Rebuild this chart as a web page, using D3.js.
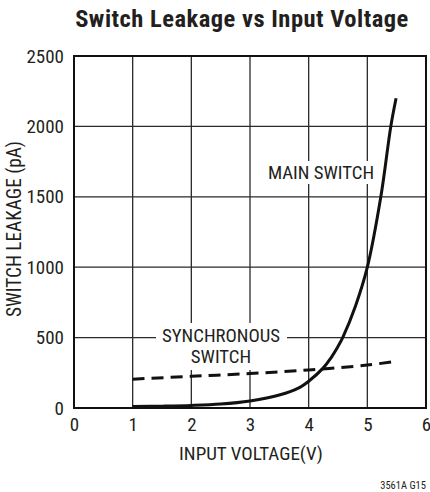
<!DOCTYPE html>
<html><head><meta charset="utf-8">
<script src="https://cdn.jsdelivr.net/npm/d3@7"></script>
<style>
html,body{margin:0;padding:0;background:#fff;}
svg{display:block;}
text{font-family:"Liberation Sans Narrow","Roboto Condensed","Liberation Sans",Arial,sans-serif;fill:#231f20;}
</style></head>
<body>
<svg id="chart" width="430" height="492"></svg>
<script>
const title = "Switch Leakage vs Input Voltage";
const xLabel = "INPUT VOLTAGE(V)";
const yLabel = "SWITCH LEAKAGE (pA)";
const footnote = "3561A G15";
const xTicks = [0, 1, 2, 3, 4, 5, 6];
const yTicks = [0, 500, 1000, 1500, 2000, 2500];
const mainX = [1, 1.5, 2, 2.5, 3, 3.5, 3.85, 4, 4.25, 4.375, 4.5, 4.58, 4.8, 5, 5.23, 5.4, 5.49];
const mainY = [10, 13, 18, 28, 50, 92, 147, 190, 285, 353, 437, 500, 727, 1000, 1500, 2000, 2200];
const syncX = [1, 2, 3, 4, 5, 5.5];
const syncY = [205, 225, 245, 270, 305, 332];

const svg = d3.select("#chart");
const m = {left: 74, right: 426, top: 56, bottom: 408};
const x = d3.scaleLinear().domain([0, 6]).range([m.left, m.right]);
const y = d3.scaleLinear().domain([0, 2500]).range([m.bottom, m.top]);

// grid
const g = svg.append("g");
g.selectAll(".vg").data(xTicks.slice(1, -1)).join("line")
  .attr("x1", d => x(d)).attr("x2", d => x(d)).attr("y1", y(0)).attr("y2", y(2500))
  .attr("stroke", "#2a2a2a").attr("stroke-width", 1.3);
g.selectAll(".hg").data(yTicks.slice(1, -1)).join("line")
  .attr("y1", d => y(d)).attr("y2", d => y(d)).attr("x1", x(0)).attr("x2", x(6))
  .attr("stroke", "#2a2a2a").attr("stroke-width", 1.3);

// label backgrounds
svg.append("rect").attr("x", 156).attr("y", 323).attr("width", 131).attr("height", 47).attr("fill", "#fff");
svg.append("rect").attr("x", 264).attr("y", 161).attr("width", 110).attr("height", 23).attr("fill", "#fff");

// frame
svg.append("rect").attr("x", x(0)).attr("y", y(2500)).attr("width", x(6) - x(0)).attr("height", y(0) - y(2500))
  .attr("fill", "none").attr("stroke", "#111").attr("stroke-width", 2);

// axes
const xAxis = d3.axisBottom(x).tickValues(xTicks).tickSize(0).tickPadding(10).tickFormat(d3.format("d"));
const xa = svg.append("g").attr("transform", `translate(0,${y(0)})`).call(xAxis);
xa.select(".domain").remove();
xa.selectAll("text").attr("font-size", 19).attr("fill", "#231f20").attr("font-family", null);

const yAxis = d3.axisLeft(y).tickValues(yTicks).tickSize(0).tickPadding(10).tickFormat(d3.format("d"));
const ya = svg.append("g").attr("transform", `translate(${x(0)},0)`).call(yAxis);
ya.select(".domain").remove();
ya.selectAll("text").attr("font-size", 19).attr("fill", "#231f20").attr("font-family", null);

// lines
const mainData = mainX.map((d, i) => [d, mainY[i]]);
const syncData = syncX.map((d, i) => [d, syncY[i]]);
const line = d3.line().x(d => x(d[0])).y(d => y(d[1])).curve(d3.curveCatmullRom.alpha(0.5));
svg.append("path").attr("d", line(syncData)).attr("fill", "none").attr("stroke", "#111")
  .attr("stroke-width", 3).attr("stroke-dasharray", "12,7");
svg.append("path").attr("d", line(mainData)).attr("fill", "none").attr("stroke", "#111")
  .attr("stroke-width", 3);

// annotations
svg.append("text").attr("x", 321).attr("y", 179).attr("text-anchor", "middle").attr("font-size", 18.8).text("MAIN SWITCH");
svg.append("text").attr("x", 221).attr("y", 342).attr("text-anchor", "middle").attr("font-size", 18.8).text("SYNCHRONOUS");
svg.append("text").attr("x", 221).attr("y", 363).attr("text-anchor", "middle").attr("font-size", 18.8).text("SWITCH");

// titles
svg.append("text").attr("x", 242).attr("y", 27).attr("text-anchor", "middle").attr("font-size", 24.5)
  .attr("letter-spacing", 0.5).attr("font-weight", "bold").text(title);
svg.append("text").attr("x", 251).attr("y", 460).attr("text-anchor", "middle").attr("font-size", 19).text(xLabel);
svg.append("text").attr("transform", "translate(21,229) rotate(-90)").attr("text-anchor", "middle")
  .attr("font-size", 19.3).text(yLabel);
svg.append("text").attr("x", 426).attr("y", 489).attr("text-anchor", "end").attr("font-size", 10.5).text(footnote);
</script>
</body></html>
